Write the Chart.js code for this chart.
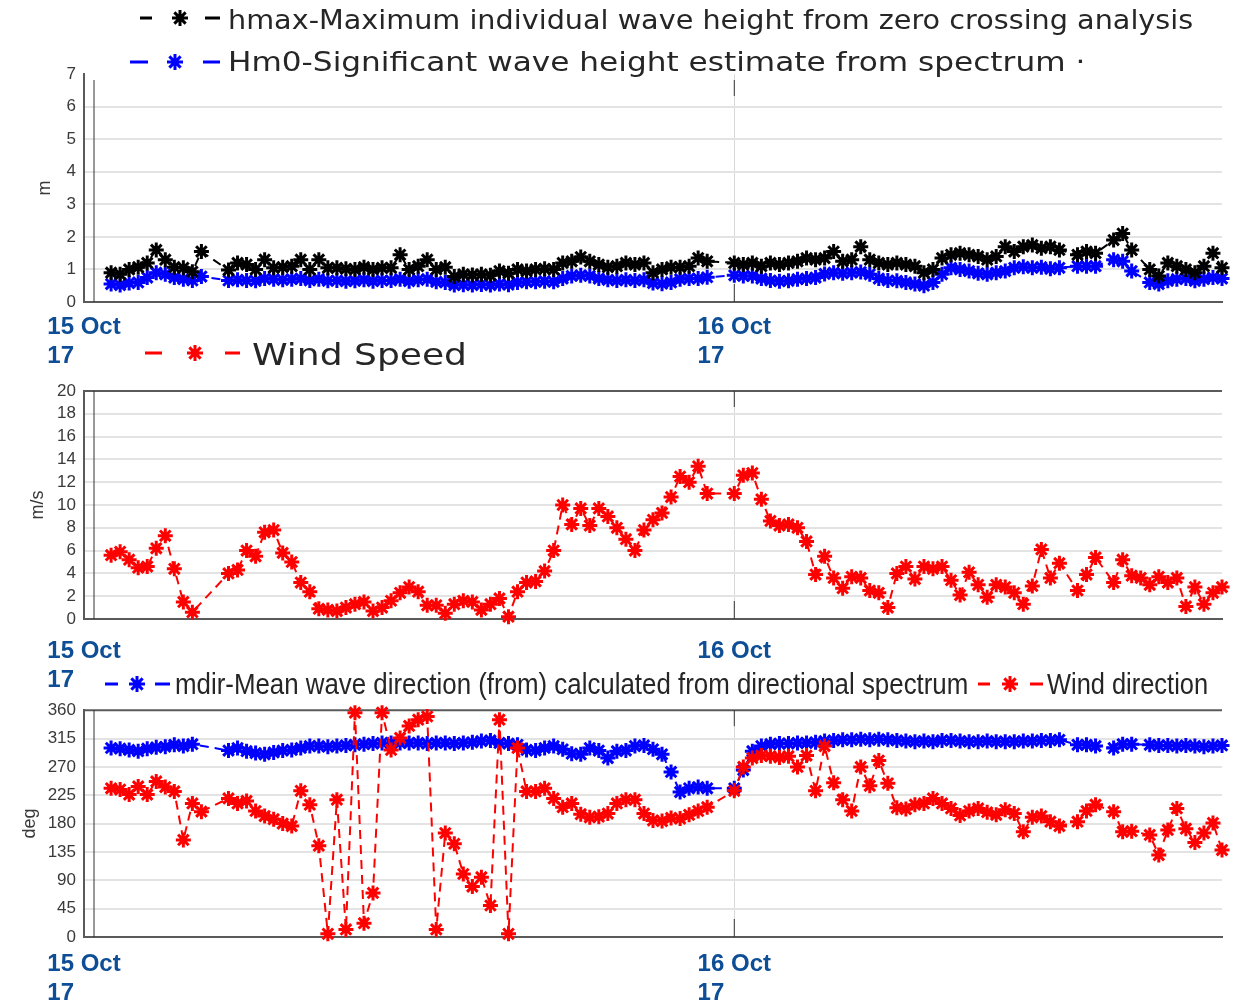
<!DOCTYPE html>
<html>
<head>
<meta charset="utf-8">
<script src="https://cdn.jsdelivr.net/npm/chart.js@4.4.0/dist/chart.umd.min.js"></script>
<style>
  body { margin: 0; background: #fff; width: 1238px; height: 1001px; overflow: hidden; position: relative; }
  .panel { position: absolute; left: 0; width: 1238px; }
  .leg { position: absolute; white-space: nowrap; color: #262626; transform-origin: 0 50%; line-height: 1; z-index: 6; }
  #keys { position: absolute; left: 0; top: 0; z-index: 5; pointer-events: none; }
</style>
</head>
<body>
<div class="panel" style="top:0;height:372px"><canvas id="waveHeight"></canvas></div>
<div class="panel" style="top:372px;height:320px"><canvas id="windSpeedChart"></canvas></div>
<div class="panel" style="top:692px;height:309px"><canvas id="direction"></canvas></div>
<canvas id="keys" width="1238" height="1001"></canvas>

<div class="leg" data-w="965" style="left:228px;top:20px;font:26px 'DejaVu Sans'">hmax-Maximum individual wave height from zero crossing analysis</div>
<div class="leg" data-w="857" style="left:228px;top:62px;font:26px 'DejaVu Sans'">Hm0-Significant wave height estimate from spectrum &middot;</div>
<div class="leg" data-w="215" style="left:252px;top:354px;font:30px 'DejaVu Sans'">Wind Speed</div>
<div class="leg" data-w="793" style="left:175px;top:684px;font:30px 'Liberation Sans';background:#fff">mdir-Mean wave direction (from) calculated from directional spectrum</div>
<div class="leg" data-w="161" style="left:1047px;top:684px;font:30px 'Liberation Sans'">Wind direction</div>

<script>
// time axis: one value every 20 minutes from 15 Oct 00:00 (hours)
const stepHours = 1 / 3;
const dayTicks = [0, 24];
const dayLabels = [["15 Oct", "17       "], ["16 Oct", "17       "]];

// Panel 1 - wave heights (m) ==================================================
const hmax = [
  null, null, null, 0.9, 0.85, 1.0, 1.07, 1.2, 1.6, 1.3,
  1.07, 1.05, 0.93, 1.55, null, null, 0.98, 1.2, 1.15, 1.0,
  1.3, 1.05, 1.07, 1.1, 1.3, 1.0, 1.3, 1.05, 1.05, 1.02,
  1.0, 1.07, 1.0, 1.05, 1.05, 1.45, 1.0, 1.1, 1.3, 1.0,
  1.07, 0.78, 0.85, 0.83, 0.85, 0.82, 0.95, 0.88, 1.0, 0.95,
  1.0, 1.02, 1.0, 1.2, 1.25, 1.38, 1.25, 1.15, 1.07, 1.1,
  1.2, 1.15, 1.2, 0.9, 1.0, 1.07, 1.07, 1.1, 1.35, 1.25,
  null, null, 1.2, 1.15, 1.2, 1.1, 1.2, 1.15, 1.2, 1.25,
  1.35, 1.3, 1.35, 1.55, 1.25, 1.3, 1.7, 1.3, 1.2, 1.15,
  1.2, 1.15, 1.1, 0.9, 1.0, 1.35, 1.45, 1.5, 1.45, 1.4,
  1.3, 1.4, 1.7, 1.55, 1.7, 1.75, 1.65, 1.7, 1.6, null,
  1.45, 1.55, 1.5, null, 1.9, 2.1, 1.6, null, 1.0, 0.8,
  1.2, 1.1, 1.0, 0.9, 1.1, 1.5, 1.05
];
const hm0 = [
  null, null, null, 0.55, 0.52, 0.58, 0.6, 0.75, 0.9, 0.85,
  0.75, 0.7, 0.66, 0.78, null, null, 0.66, 0.68, 0.66, 0.65,
  0.72, 0.7, 0.68, 0.7, 0.72, 0.66, 0.7, 0.65, 0.66, 0.64,
  0.65, 0.68, 0.64, 0.66, 0.66, 0.7, 0.64, 0.68, 0.7, 0.62,
  0.6, 0.52, 0.53, 0.52, 0.54, 0.52, 0.55, 0.53, 0.6, 0.62,
  0.62, 0.64, 0.62, 0.72, 0.8, 0.82, 0.8, 0.72, 0.68, 0.66,
  0.68, 0.66, 0.68, 0.58, 0.56, 0.6, 0.7, 0.72, 0.72, 0.76,
  null, null, 0.82, 0.8, 0.8, 0.72, 0.66, 0.64, 0.65, 0.7,
  0.72, 0.75, 0.86, 0.9, 0.88, 0.9, 0.92, 0.85, 0.72, 0.66,
  0.65, 0.6, 0.55, 0.5, 0.6, 0.85, 1.05, 1.0, 0.95, 0.88,
  0.85, 0.9, 0.95, 1.05, 1.08, 1.05, 1.07, 1.02, 1.05, null,
  1.1, 1.1, 1.1, null, 1.3, 1.25, 0.95, null, 0.6, 0.55,
  0.65, 0.7, 0.72, 0.65, 0.7, 0.75, 0.72
];

// Panel 2 - wind speed (m/s) ==================================================
const windSpeed = [
  null, null, null, 5.6, 5.9, 5.2, 4.5, 4.6, 6.2, 7.3,
  4.4, 1.5, 0.6, null, null, null, 4.0, 4.3, 6.0, 5.5,
  7.6, 7.8, 5.8, 5.0, 3.2, 2.4, 0.9, 0.8, 0.7, 1.0,
  1.3, 1.5, 0.7, 1.0, 1.6, 2.3, 2.8, 2.4, 1.2, 1.2,
  0.5, 1.3, 1.6, 1.5, 0.8, 1.3, 1.8, 0.2, 2.4, 3.2,
  3.3, 4.2, 6.0, 10.0, 8.3, 9.7, 8.2, 9.7, 9.0, 8.0,
  7.0, 6.0, 7.8, 8.7, 9.3, 10.7, 12.5, 12.0, 13.4, 11.0,
  null, null, 11.0, 12.6, 12.8, 10.5, 8.6, 8.2, 8.3, 8.0,
  6.8, 3.9, 5.5, 3.6, 2.7, 3.7, 3.6, 2.5, 2.3, 1.0,
  4.0, 4.6, 3.5, 4.6, 4.4, 4.6, 3.4, 2.1, 4.1, 3.0,
  1.9, 3.0, 2.8, 2.3, 1.3, 2.9, 6.1, 3.6, 4.9, null,
  2.5, 3.9, 5.4, null, 3.2, 5.2, 3.8, 3.6, 3.0, 3.7,
  3.2, 3.6, 1.1, 2.8, 1.3, 2.3, 2.8
];

// Panel 3 - directions (deg) ==================================================
const meanWaveDir = [
  null, null, null, 300, 299, 297, 295, 299, 301, 302,
  305, 303, 306, null, null, null, 296, 300, 295, 292,
  290, 293, 296, 297, 300, 303, 303, 302, 303, 304,
  305, 306, 307, 308, 308, 308, 308, 308, 307, 308,
  308, 307, 308, 309, 311, 312, 308, 307, 305, 297,
  296, 300, 303, 298, 291, 290, 300, 296, 284, 295,
  296, 303, 304, 298, 290, 262, 230, 236, 238, 236,
  null, null, 236, 265, 295, 303, 306, 307, 307, 308,
  308, 309, 311, 312, 313, 313, 314, 313, 314, 313,
  312, 311, 310, 311, 310, 312, 312, 311, 310, 310,
  311, 310, 310, 310, 311, 311, 312, 312, 313, null,
  305, 305, 303, null, 300, 306, 306, null, 305, 304,
  304, 303, 304, 303, 302, 303, 304
];
const windDir = [
  null, null, null, 236, 234, 226, 239, 226, 247, 238,
  231, 154, 212, 199, null, null, 220, 212, 216, 200,
  192, 187, 180, 176, 232, 210, 145, 5, 218, 12,
  356, 22, 70, 356, 297, 316, 335, 345, 350, 12,
  165, 148, 100, 80, 95, 50, 345, 5, 300, 231,
  231, 236, 220, 206, 212, 195, 190, 191, 196, 212,
  218, 218, 196, 185, 184, 189, 188, 194, 200, 206,
  null, null, 232, 270, 284, 288, 287, 285, 287, 270,
  288, 232, 303, 245, 218, 200, 270, 240, 280, 244,
  205, 203, 210, 212, 220, 212, 204, 193, 200, 204,
  198, 194, 202, 196, 167, 190, 192, 183, 176, null,
  183, 200, 210, null, 199, 167, 168, null, 162, 130,
  170, 204, 172, 150, 165, 181, 138
];

//======================================================================

Chart.defaults.font.family = "'Liberation Sans', Arial, sans-serif";

const toPoints = (values) => values.map((v, i) => ({ x: i * stepHours, y: v }));

function series(label, values, color) {
  return {
    label: label,
    data: toPoints(values),
    borderColor: color,
    backgroundColor: color,
    borderWidth: 2,
    borderDash: [9, 6],
    pointStyle: "star",
    pointRadius: 7.5,
    pointBorderWidth: 3,
    pointBorderColor: color,
    spanGaps: true,
    clip: 10,
  };
}

// box top line, inner axis line and the black day ticks
const framePlugin = {
  id: "frame",
  beforeDatasetsDraw(chart, args, opts) {
    const { ctx, chartArea: a, scales } = chart;
    const line = (x1, y1, x2, y2) => { ctx.beginPath(); ctx.moveTo(x1, y1); ctx.lineTo(x2, y2); ctx.stroke(); };
    ctx.save();
    if (opts.top) {
      ctx.strokeStyle = "#5a5a5a";
      ctx.lineWidth = 2;
      line(a.left, a.top, a.right, a.top);
    }
    ctx.strokeStyle = "#333";
    ctx.lineWidth = 1;
    const t = a.top + (opts.innerTop || 0);
    line(a.left + 10, t, a.left + 10, a.bottom);
    const x = scales.x.getPixelForValue(24);
    line(x, t, x, t + 16);
    line(x, a.bottom - 18, x, a.bottom);
    ctx.restore();
  },
};

function panelOptions(p) {
  return {
    responsive: true,
    maintainAspectRatio: false,
    animation: false,
    layout: { padding: { top: p.padTop, right: 16, left: 0, bottom: 0 } },
    plugins: {
      legend: { display: false },
      tooltip: { enabled: false },
      frame: { top: p.top, innerTop: p.innerTop },
    },
    scales: {
      x: {
        type: "linear",
        min: 0,
        max: 42,
        afterBuildTicks: (s) => { s.ticks = dayTicks.map((v) => ({ value: v })); },
        afterFit: (s) => { s.height = p.xHeight; },
        grid: { color: (c) => (c.tick && c.tick.value === 0 ? "transparent" : "#d8d8d8"), lineWidth: 1, drawTicks: false },
        border: { color: "#5a5a5a", width: 2 },
        ticks: {
          color: "#0d4e96",
          font: { size: 24, weight: "bold" },
          padding: p.xPad,
          maxRotation: 0,
          autoSkip: false,
          callback: (v) => dayLabels[dayTicks.indexOf(v)],
        },
      },
      y: {
        min: p.min,
        max: p.max,
        afterFit: (s) => { s.width = 84; },
        grid: {
          color: (c) => (c.tick && (c.tick.value === p.min || c.tick.value === p.max) ? "transparent" : "#e3e3e3"),
          lineWidth: 2,
          drawTicks: false,
        },
        border: { color: "#5a5a5a", width: 2 },
        ticks: { stepSize: p.step, autoSkip: false, color: "#3a3a3a", font: { size: 17 }, padding: 8 },
        title: { display: true, text: p.title, color: "#3a3a3a", font: { size: 18 }, padding: { top: p.titlePad } },
      },
    },
  };
}

const graficoOndas = new Chart(document.getElementById("waveHeight"), {
  type: "line",
  data: { datasets: [series("hmax", hmax, "#000000"), series("Hm0", hm0, "#0000ff")] },
  options: panelOptions({ padTop: 74, xHeight: 70, xPad: 11, min: 0, max: 7, step: 1, title: "m", titlePad: 34, top: false, innerTop: 6 }),
  plugins: [framePlugin],
});

const graficoVento = new Chart(document.getElementById("windSpeedChart"), {
  type: "line",
  data: { datasets: [series("Wind Speed", windSpeed, "#ff0000")] },
  options: panelOptions({ padTop: 19, xHeight: 73, xPad: 18, min: 0, max: 20, step: 2, title: "m/s", titlePad: 27, top: true, innerTop: 0 }),
  plugins: [framePlugin],
});

const graficoDirecao = new Chart(document.getElementById("direction"), {
  type: "line",
  data: { datasets: [series("Wind direction", windDir, "#ff0000"), series("mdir", meanWaveDir, "#0000ff")] },
  options: panelOptions({ padTop: 16, xHeight: 64, xPad: 13, min: 0, max: 360, step: 45, title: "deg", titlePad: 19, top: true, innerTop: 0 }),
  plugins: [framePlugin],
});

//======================================================================
// legend keys "- * -"

const keyCtx = document.getElementById("keys").getContext("2d");
function drawKey(x1, x2, sx, x3, x4, y, color) {
  keyCtx.strokeStyle = color;
  keyCtx.lineWidth = 3;
  keyCtx.beginPath();
  keyCtx.moveTo(x1, y); keyCtx.lineTo(x2, y);
  keyCtx.moveTo(x3, y); keyCtx.lineTo(x4, y);
  keyCtx.stroke();
  keyCtx.lineWidth = 3;
  const r = 8;
  keyCtx.beginPath();
  for (let k = 0; k < 4; k++) {
    const ang = (k * Math.PI) / 4;
    keyCtx.moveTo(sx - r * Math.cos(ang), y - r * Math.sin(ang));
    keyCtx.lineTo(sx + r * Math.cos(ang), y + r * Math.sin(ang));
  }
  keyCtx.stroke();
}
drawKey(140, 152, 180, 205, 220, 18, "#000000");
drawKey(130, 148, 175, 203, 220, 62, "#0000ff");
drawKey(145, 162, 195, 225, 240, 353, "#ff0000");
drawKey(105, 118, 137, 155, 170, 684, "#0000ff");
drawKey(978, 990, 1010, 1030, 1043, 684, "#ff0000");

// fit legend texts to their widths
document.querySelectorAll(".leg").forEach((el) => {
  const w = el.offsetWidth;
  el.style.transform = "translateY(-50%) scaleX(" + el.dataset.w / w + ")";
});
</script>
</body>
</html>
